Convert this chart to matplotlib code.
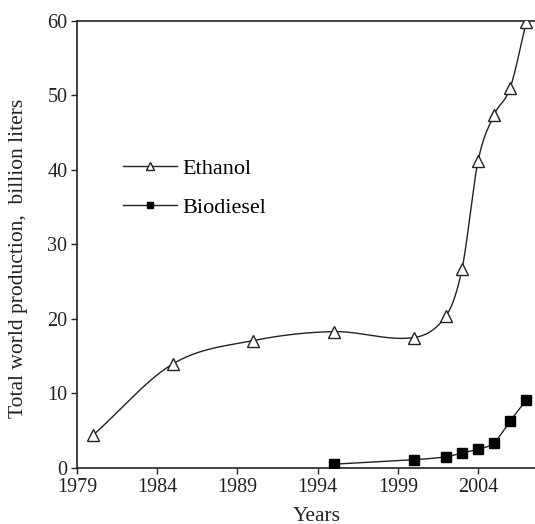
import numpy as np
import matplotlib
matplotlib.use('Agg')
import matplotlib.pyplot as plt

plt.rcParams['font.family'] = ['Liberation Serif', 'DejaVu Serif']

# Data (billion liters)
ethanol_years = [1980, 1985, 1990, 1995, 2000, 2002, 2003, 2004, 2005, 2006, 2007]
ethanol_values = [4.4, 14.0, 17.1, 18.3, 17.5, 20.4, 26.7, 41.2, 47.4, 51.0, 59.8]

biodiesel_years = [1995, 2000, 2002, 2003, 2004, 2005, 2006, 2007]
biodiesel_values = [0.5, 1.1, 1.5, 2.0, 2.5, 3.4, 6.3, 9.1]

x_ticks = [1979, 1984, 1989, 1994, 1999, 2004]
y_ticks = [0, 10, 20, 30, 40, 50, 60]


def smooth_line(x, y, n=30):
    # cubic hermite curve through the points, just for drawing the line
    x = np.asarray(x, float)
    y = np.asarray(y, float)
    m = np.zeros_like(y)
    m[1:-1] = (y[2:] - y[:-2]) / (x[2:] - x[:-2])
    m[0] = (y[1] - y[0]) / (x[1] - x[0])
    m[-1] = (y[-1] - y[-2]) / (x[-1] - x[-2])
    xs, ys = [], []
    for i in range(len(x) - 1):
        h = x[i + 1] - x[i]
        t = np.linspace(0, 1, n, endpoint=False)
        h00 = 2 * t**3 - 3 * t**2 + 1
        h10 = t**3 - 2 * t**2 + t
        h01 = -2 * t**3 + 3 * t**2
        h11 = t**3 - t**2
        xs.append(x[i] + t * h)
        ys.append(h00 * y[i] + h10 * h * m[i] + h01 * y[i + 1] + h11 * h * m[i + 1])
    xs.append([x[-1]])
    ys.append([y[-1]])
    return np.concatenate(xs), np.concatenate(ys)


fig = plt.figure(figsize=(5.35, 5.24), dpi=100)
ax = fig.add_axes([0.144, 0.107, 0.856, 0.853])

col = '#222222'
ex, ey = smooth_line(ethanol_years, ethanol_values)
bx, by = smooth_line(biodiesel_years, biodiesel_values)
ax.plot(ex, ey, color=col, lw=1.0, zorder=2)
ax.plot(bx, by, color=col, lw=1.0, zorder=2)
ax.plot(ethanol_years, ethanol_values, ls='none', marker='^', ms=9,
        mfc='white', mec=col, mew=1.0, zorder=3)
ax.plot(biodiesel_years, biodiesel_values, ls='none', marker='s', ms=7,
        mfc='black', mec='black', zorder=3)

# legend handles
ax.plot([], [], color=col, lw=1.0, marker='^', ms=6, mfc='white', mec=col, label='Ethanol')
ax.plot([], [], color=col, lw=1.0, marker='s', ms=5, mfc='black', mec='black', label='Biodiesel')
leg = ax.legend(loc='upper left', bbox_to_anchor=(0.100, 0.692), frameon=False,
                fontsize=16, handlelength=2.45, handletextpad=0.25, labelspacing=0.8,
                borderpad=0, borderaxespad=0)

ax.set_xlim(1979, 2007.55)
ax.set_ylim(0, 60)
ax.set_xticks(x_ticks)
ax.set_yticks(y_ticks)
ax.tick_params(direction='out', length=4, width=1, colors='#222222', labelsize=14.5, pad=3)
ax.spines['right'].set_visible(False)
for s in ['left', 'top', 'bottom']:
    ax.spines[s].set_linewidth(1.2)
    ax.spines[s].set_color('#222222')

ax.set_ylabel('Total world production,  billion liters', fontsize=15.5, color='#222222')
ax.yaxis.set_label_coords(-0.107, 0.468)
ax.set_xlabel('Years', fontsize=15.5, color='#222222')
ax.xaxis.set_label_coords(0.524, -0.087)

fig.savefig('out.png', dpi=100)
